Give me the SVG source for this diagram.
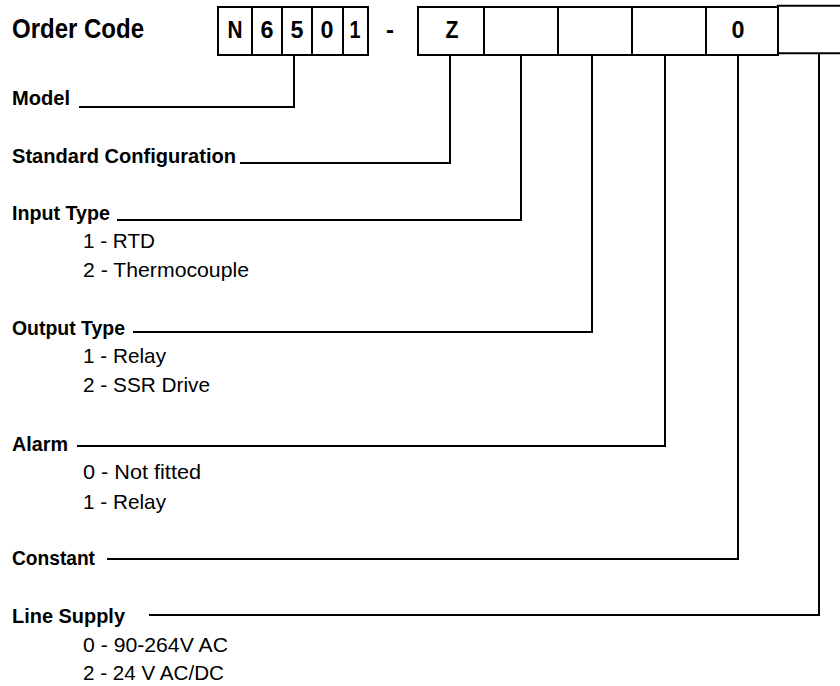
<svg xmlns="http://www.w3.org/2000/svg" width="840" height="686" viewBox="0 0 840 686">
<style>
text{font-family:"Liberation Sans",Arial,sans-serif;fill:#000}
.h{font-weight:bold;font-size:21px}
.t{font-size:28px;font-weight:bold}
.i{font-size:21px}
.c{font-size:24px;font-weight:bold;text-anchor:middle}
.box{fill:#fff;stroke:#000;stroke-width:2}
.cn{fill:none;stroke:#000;stroke-width:2}
</style>
<rect width="840" height="686" fill="#fff"/>
<g id="title"><text class="t" x="12" y="38" textLength="132" lengthAdjust="spacingAndGlyphs">Order Code</text></g>
<g id="code-model">
<rect class="box" x="218" y="7" width="150" height="48"/>
<path class="cn" d="M252 7V55M282 7V55M312 7V55M343 7V55"/>
<text class="c" x="235" y="38" textLength="15" lengthAdjust="spacingAndGlyphs">N</text>
<text class="c" x="267" y="38" textLength="13" lengthAdjust="spacingAndGlyphs">6</text>
<text class="c" x="297" y="38" textLength="13" lengthAdjust="spacingAndGlyphs">5</text>
<text class="c" x="327" y="38" textLength="13" lengthAdjust="spacingAndGlyphs">0</text>
<text class="c" x="355" y="38" textLength="11" lengthAdjust="spacingAndGlyphs">1</text>
</g>
<g id="dash"><text class="c" x="390" y="38">-</text></g>
<g id="code-options">
<rect class="box" x="418" y="7" width="360" height="48"/>
<path class="cn" d="M484 7V55M558 7V55M632 7V55M706 7V55"/>
<text class="c" x="452" y="38" textLength="13" lengthAdjust="spacingAndGlyphs">Z</text>
<text class="c" x="738" y="38" textLength="13" lengthAdjust="spacingAndGlyphs">0</text>
</g>
<g id="code-supply"><path class="box" d="M845 5.7H778V53.3H845"/></g>
<g id="connectors">
<polyline class="cn" points="294,55 294,107 79,107"/>
<polyline class="cn" points="450,55 450,163 240,163"/>
<polyline class="cn" points="521,55 521,220 117,220"/>
<polyline class="cn" points="592,55 592,332 133,332"/>
<polyline class="cn" points="665,55 665,446 77,446"/>
<polyline class="cn" points="738,55 738,559 107,559"/>
<polyline class="cn" points="819,53 819,615 149,615"/>
</g>
<g id="model"><text class="h" x="12" y="105" textLength="58" lengthAdjust="spacingAndGlyphs">Model</text></g>
<g id="standard"><text class="h" x="12" y="163" textLength="224" lengthAdjust="spacingAndGlyphs">Standard Configuration</text></g>
<g id="input">
<text class="h" x="12" y="220" textLength="98" lengthAdjust="spacingAndGlyphs">Input Type</text>
<text class="i" x="83" y="248" textLength="72" lengthAdjust="spacingAndGlyphs">1 - RTD</text>
<text class="i" x="83" y="277" textLength="166" lengthAdjust="spacingAndGlyphs">2 - Thermocouple</text>
</g>
<g id="output">
<text class="h" x="12" y="335" textLength="113" lengthAdjust="spacingAndGlyphs">Output Type</text>
<text class="i" x="83" y="363" textLength="83" lengthAdjust="spacingAndGlyphs">1 - Relay</text>
<text class="i" x="83" y="392" textLength="127" lengthAdjust="spacingAndGlyphs">2 - SSR Drive</text>
</g>
<g id="alarm">
<text class="h" x="12" y="451" textLength="56" lengthAdjust="spacingAndGlyphs">Alarm</text>
<text class="i" x="83" y="479" textLength="118" lengthAdjust="spacingAndGlyphs">0 - Not fitted</text>
<text class="i" x="83" y="509" textLength="83" lengthAdjust="spacingAndGlyphs">1 - Relay</text>
</g>
<g id="constant"><text class="h" x="12" y="565" textLength="83" lengthAdjust="spacingAndGlyphs">Constant</text></g>
<g id="supply">
<text class="h" x="12" y="623" textLength="113" lengthAdjust="spacingAndGlyphs">Line Supply</text>
<text class="i" x="83" y="652" textLength="145" lengthAdjust="spacingAndGlyphs">0 - 90-264V AC</text>
<text class="i" x="83" y="680" textLength="141" lengthAdjust="spacingAndGlyphs">2 - 24 V AC/DC</text>
</g>
</svg>
